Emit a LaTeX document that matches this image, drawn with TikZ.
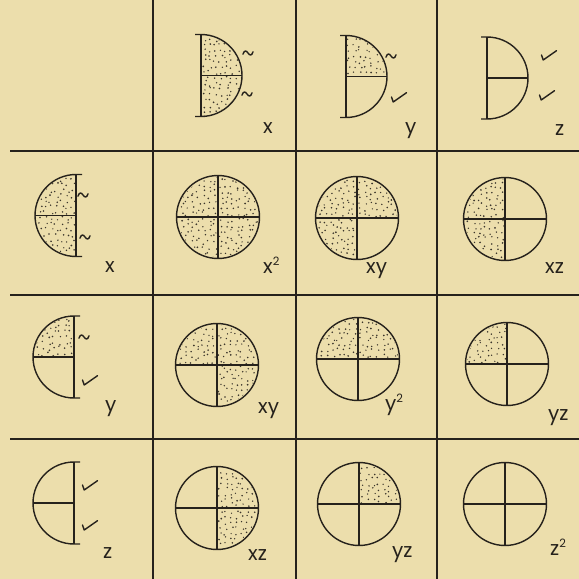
\documentclass[tikz,border=0pt]{standalone}
\usepackage{fontspec}
\newfontfamily\labfont{Poppins}
\definecolor{paper}{RGB}{236,222,172}
\definecolor{ink}{RGB}{38,34,28}
\definecolor{dotc}{RGB}{60,54,44}
\tikzset{
  gridline/.style={ink, line width=1.8pt},
  outline/.style={ink, line width=1.4pt},
  mk/.style={ink, line width=1.4pt, line cap=round, line join=round},
  lab/.style={font=\labfont\fontsize{20}{20}\selectfont, text=ink, inner sep=0pt, anchor=base west},
}
\newcommand\sq[1]{{\fontsize{11.5}{11.5}\selectfont\raisebox{8pt}{#1}}}
% #1 cx, #2 cy, #3 sx, #4 sy, #5 start angle of sector
\newcommand\stipq[5]{%
  \begin{scope}
  \clip (#1,#2) -- ++(#5:40) arc[start angle=#5, delta angle=90, radius=40] -- cycle;
  \foreach \i in {0,...,7}{%
    \foreach \j in {0,...,7}{%
      \pgfmathsetmacro\px{#1+#3*(3.2+\i*5.5+2.1*rand)}%
      \pgfmathsetmacro\py{#2+#4*(3.2+\j*5.5+2.1*rand)}%
      \pgfmathsetmacro\dr{0.7+0.25*rnd}%
      \fill[dotc] (\px,\py) circle (\dr);
    }}
  \end{scope}}
\newcommand\fullc[6]{%
  \ifnum#3=1 \stipq{#1}{#2}{-1}{-1}{180}\fi
  \ifnum#4=1 \stipq{#1}{#2}{1}{-1}{270}\fi
  \ifnum#5=1 \stipq{#1}{#2}{-1}{1}{90}\fi
  \ifnum#6=1 \stipq{#1}{#2}{1}{1}{0}\fi
  \draw[outline] (#1,#2) circle (41.5);
  \draw[outline] (#1-41.5,#2) -- (#1+41.5,#2);
  \draw[outline] (#1,#2-41.5) -- (#1,#2+41.5);
}
\newcommand\halfR[4]{%
  \ifnum#3=1 \stipq{#1}{#2}{1}{-1}{270}\fi
  \ifnum#4=1 \stipq{#1}{#2}{1}{1}{0}\fi
  \draw[outline] (#1-6,#2-41) -- (#1,#2-41) arc[start angle=-90,end angle=90,radius=41] -- (#1-6,#2+41);
  \draw[outline] (#1,#2-41) -- (#1,#2+41);
  \draw[outline] (#1,#2) -- (#1+41,#2);
}
\newcommand\halfL[4]{%
  \ifnum#3=1 \stipq{#1}{#2}{-1}{-1}{180}\fi
  \ifnum#4=1 \stipq{#1}{#2}{-1}{1}{90}\fi
  \draw[outline] (#1+6,#2-41) -- (#1,#2-41) arc[start angle=-90,end angle=-270,radius=41] -- (#1+6,#2+41);
  \draw[outline] (#1,#2-41) -- (#1,#2+41);
  \draw[outline] (#1,#2) -- (#1-41,#2);
}
\newcommand\tild[2]{\draw[mk,shift={(#1,#2)}] (-5,1.2) .. controls (-4,-2.8) and (-1.5,-2.8) .. (0,0) .. controls (1.5,2.8) and (4,2.8) .. (5,-1.2);}
\newcommand\chk[2]{\draw[mk,shift={(#1,#2)}] (-7.5,0) -- (-5.8,5) -- (7.5,-4.3);}
\begin{document}
\begin{tikzpicture}[x=1pt,y=-1pt]
\pgfmathsetseed{7}
\useasboundingbox (0,0) rectangle (579,579);
\fill[paper] (0,0) rectangle (579,579);
% grid
\draw[gridline] (153,0) -- (153,579);
\draw[gridline] (296,0) -- (296,579);
\draw[gridline] (437,0) -- (437,579);
\draw[gridline] (10,151) -- (579,151);
\draw[gridline] (10,295) -- (579,295);
\draw[gridline] (10,439) -- (579,439);
% top row half disks
\halfR{201}{75.5}{1}{1}
\halfR{346}{76.5}{1}{0}
\halfR{487}{78}{0}{0}
\tild{248}{53}\tild{247}{94}
\tild{391}{56}\chk{399}{97}
\chk{549}{55}\chk{547}{95}
% left column half disks
\halfL{76}{215.5}{1}{1}
\halfL{74}{357}{1}{0}
\halfL{74}{503}{0}{0}
\tild{83}{195}\tild{85}{237}
\tild{84}{337}\chk{90}{380}
\chk{90}{485}\chk{90}{525}
% products
\fullc{218}{217}{1}{1}{1}{1}
\fullc{357}{218}{1}{1}{1}{0}
\fullc{505}{219}{1}{0}{1}{0}
\fullc{217}{365}{1}{1}{0}{1}
\fullc{358}{359}{1}{1}{0}{0}
\fullc{507}{364}{1}{0}{0}{0}
\fullc{217}{508}{0}{1}{0}{1}
\fullc{359}{504}{0}{1}{0}{0}
\fullc{505}{504}{0}{0}{0}{0}
% labels
\node[lab] (tx) at (263,133) {x};
\node[lab] (ty) at (405,133) {y};
\node[lab] (tz) at (555,135) {z};
\node[lab] (lx) at (105,272) {x};
\node[lab] (ly) at (105,411) {y};
\node[lab] (lz) at (103,558) {z};
\node[lab] (p22) at (263,273) {x\sq{2}};
\node[lab] (p23) at (366,273) {xy};
\node[lab] (p24) at (545,273) {xz};
\node[lab] (p32) at (258,413) {xy};
\node[lab] (p33) at (385,410) {y\sq{2}};
\node[lab] (p34) at (548,420) {yz};
\node[lab] (p42) at (248,560) {xz};
\node[lab] (p43) at (392,557) {yz};
\node[lab] (p44) at (550,555) {z\sq{2}};
\end{tikzpicture}
\end{document}
